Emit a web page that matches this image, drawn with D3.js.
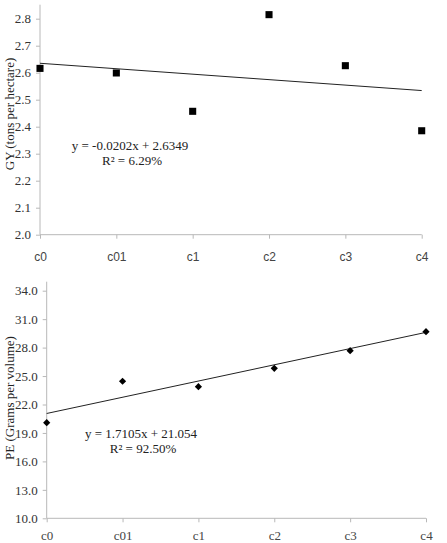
<!DOCTYPE html>
<html><head><meta charset="utf-8">
<script src="https://cdn.jsdelivr.net/npm/d3@7"></script>
<style>
body{margin:0;background:#fff;}
svg{display:block;}
</style></head>
<body>
<svg id="c" width="447" height="543"></svg>
<script>
const categories = ["c0","c01","c1","c2","c3","c4"];
const gyValues = [2.616, 2.599, 2.457, 2.815, 2.626, 2.385];
const peValues = [20.08, 24.45, 23.88, 25.82, 27.67, 29.68];
const gyTicks = [2.0,2.1,2.2,2.3,2.4,2.5,2.6,2.7,2.8];
const peTicks = [10,13,16,19,22,25,28,31,34];
const gyTrend = {slope:-0.0202, intercept:2.6349, eq:"y = -0.0202x + 2.6349", r2:"R² = 6.29%"};
const peTrend = {slope:1.7105, intercept:21.054, eq:"y = 1.7105x + 21.054", r2:"R² = 92.50%"};

const svg = d3.select("#c");
const serif = "'Liberation Serif','Times New Roman',serif";
const sans = "'Liberation Sans',Arial,sans-serif";

function panel(o){
  const g = svg.append("g");
  const x = d3.scalePoint().domain(categories).range([o.x0, o.x1]);
  const y = d3.scaleLinear().domain(o.domain).range([o.yb, o.yt]);
  // y axis
  const ya = g.append("g").attr("transform",`translate(${o.x0},0)`)
    .call(d3.axisLeft(y).tickValues(o.ticks).tickSize(4).tickPadding(5).tickFormat(d3.format(".1f")));
  ya.select(".domain").remove();
  ya.selectAll(".tick line").attr("stroke","#b8b8b8");
  ya.selectAll(".tick text").attr("font-family",serif).attr("font-size",13).attr("fill","#333");
  g.append("line").attr("x1",o.x0).attr("x2",o.x0).attr("y1",o.yb).attr("y2",o.yt - o.extra)
    .attr("stroke","#b8b8b8");
  // x axis
  const xa = g.append("g").attr("transform",`translate(0,${o.yb})`)
    .call(d3.axisBottom(x).tickSize(4).tickPadding(o.xpad));
  xa.select(".domain").attr("stroke","#b8b8b8").attr("d",`M${o.x0},0H${o.x1}`);
  xa.selectAll(".tick line").attr("stroke","#b8b8b8");
  xa.selectAll(".tick text").attr("font-family",o.xfont).attr("font-size",o.xsize).attr("fill","#444");
  // y title
  g.append("text").attr("transform",`translate(${o.titleX},${o.titleY}) rotate(-90)`)
    .attr("text-anchor","middle").attr("dominant-baseline","central")
    .attr("font-family",serif).attr("font-size",13).attr("fill","#222").text(o.title);
  // trend line
  const tr = o.trend;
  const idx = d3.range(categories.length);
  g.append("line")
    .attr("x1",x(categories[0])).attr("y1",y(tr.intercept + tr.slope*idx[0]))
    .attr("x2",x(categories[categories.length-1])).attr("y2",y(tr.intercept + tr.slope*idx[idx.length-1]))
    .attr("stroke","#222").attr("stroke-width",1);
  // markers
  const sym = d3.symbol().type(d3.symbolSquare).size(o.symSize);
  g.selectAll("path.m").data(o.values).join("path").attr("class","m")
    .attr("d",sym).attr("fill","#000")
    .attr("transform",(d,i)=>`translate(${x(categories[i])},${y(d)}) rotate(${o.rot})`);
  // equation
  g.append("text").attr("x",o.eqX).attr("y",o.eqY).attr("text-anchor","middle")
    .attr("font-family",serif).attr("font-size",13).attr("fill","#222").text(tr.eq);
  g.append("text").attr("x",o.eqX+2).attr("y",o.eqY+15).attr("text-anchor","middle")
    .attr("font-family",serif).attr("font-size",13).attr("fill","#222").text(tr.r2);
}

panel({x0:40,x1:421.7,yb:234.7,yt:18.7,extra:14,domain:[2.0,2.8],ticks:gyTicks,values:gyValues,
  trend:gyTrend,rot:0,symSize:50,title:"GY (tons per hectare)",titleX:9,titleY:114,
  eqX:130,eqY:150,xfont:sans,xsize:12,xpad:14});
panel({x0:46.7,x1:426,yb:518.3,yt:290.7,extra:9,domain:[10,34],ticks:peTicks,values:peValues,
  trend:peTrend,rot:45,symSize:26,title:"PE (Grams per volume)",titleX:9,titleY:398,
  eqX:141,eqY:438,xfont:serif,xsize:13,xpad:8});
</script>
</body></html>
